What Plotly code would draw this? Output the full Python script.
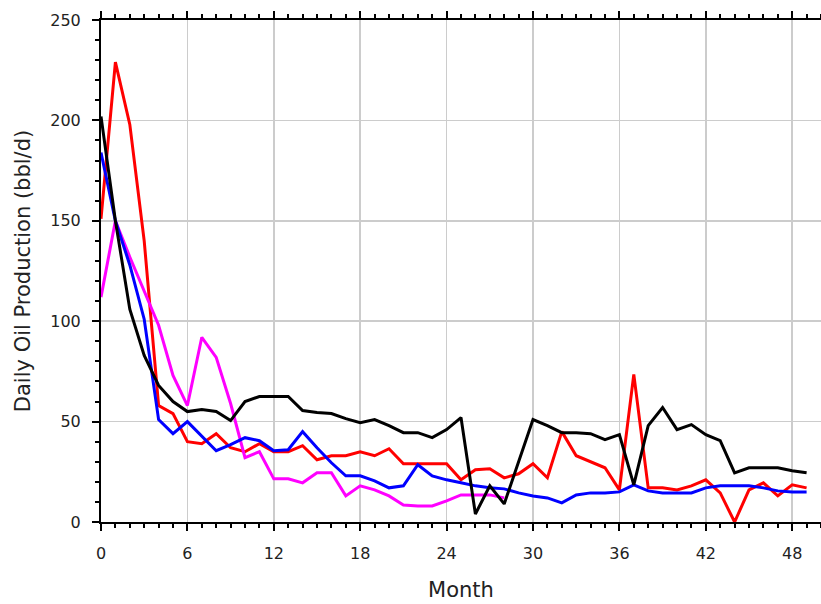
import plotly.graph_objects as go

months = list(range(50))

red = [151, 229, 198, 140, 58, 54, 40, 39, 44, 37,
       35, 39, 35, 35, 38, 31, 33, 33, 35, 33,
       36.5, 29, 29, 29, 29, 21, 26, 26.5, 22, 24,
       29, 22, 45, 33, 30, 27, 16, 73.5, 17, 17,
       16, 18, 21, 14.5, 0, 16, 19.5, 13, 18.5, 17]

blue = [184, 150, 128, 101, 51, 44, 50, 43, 35.5, 38.5,
        42, 40.5, 35.5, 36, 45, 37, 29.5, 23, 23, 20.5,
        17, 18, 28.5, 23, 21, 19.5, 18, 17, 16.5, 14.5,
        13, 12, 9.5, 13.5, 14.5, 14.5, 15, 18.5, 15.5, 14.5,
        14.5, 14.5, 17, 18, 18, 18, 17, 15.5, 15, 15]

magenta_months = list(range(29))
magenta = [112, 150, 132, 115, 98, 73, 58, 92, 82, 59,
           32, 35, 21.5, 21.5, 19.5, 24.5, 24.5, 13, 18, 16,
           13, 8.5, 8, 8, 10.5, 13.5, 13.5, 13.5, 12]

black = [202, 150, 106, 83, 68, 60, 55, 56, 55, 50.5,
         60, 62.5, 62.5, 62.5, 55.5, 54.5, 54, 51.5, 49.5, 51,
         48, 44.5, 44.5, 42, 46, 52, 4, 18, 9, 30,
         51, 48, 44.5, 44.5, 44, 41, 43.5, 18.5, 48, 57,
         46, 48.5, 43.5, 40.5, 24.5, 27, 27, 27, 25.5, 24.5]

x_ticks = [0, 6, 12, 18, 24, 30, 36, 42, 48]
y_ticks = [0, 50, 100, 150, 200, 250]

fig = go.Figure()
LW = 3
fig.add_trace(go.Scatter(x=months, y=red, mode="lines", line=dict(color="#ff0000", width=LW)))
fig.add_trace(go.Scatter(x=magenta_months, y=magenta, mode="lines", line=dict(color="#ff00ff", width=LW)))
fig.add_trace(go.Scatter(x=months, y=blue, mode="lines", line=dict(color="#0000ff", width=LW)))
fig.add_trace(go.Scatter(x=months, y=black, mode="lines", line=dict(color="#000000", width=LW)))

tickfont = dict(family="DejaVu Sans", size=16, color="#222222")
titlefont = dict(family="DejaVu Sans", size=21, color="#222222")

fig.update_layout(
    width=821, height=604,
    margin=dict(l=101, r=0, t=20, b=82),
    paper_bgcolor="white", plot_bgcolor="white",
    showlegend=False,
    hovermode=False,
    xaxis=dict(
        range=[0, 50], tickmode="array", tickvals=x_ticks,
        ticktext=[str(v) for v in x_ticks],
        showgrid=True, gridcolor="#cccccc", gridwidth=1.6,
        showline=True, linecolor="black", linewidth=2,
        ticks="outside", ticklen=7, tickwidth=2, tickcolor="black",
        mirror="ticks",
        minor=dict(dtick=1, tick0=0, ticks="outside", ticklen=4, tickwidth=2,
                   tickcolor="black", showgrid=False),
        tickfont=tickfont, ticklabelstandoff=9,
        title=dict(text="Month", font=titlefont, standoff=20),
        zeroline=False, automargin=False,
    ),
    yaxis=dict(
        range=[0, 250], tickmode="array", tickvals=y_ticks,
        ticktext=[str(v) for v in y_ticks],
        showgrid=True, gridcolor="#cccccc", gridwidth=1.6,
        showline=True, linecolor="black", linewidth=2,
        ticks="outside", ticklen=7, tickwidth=2, tickcolor="black",
        mirror="ticks",
        minor=dict(dtick=10, tick0=0, ticks="outside", ticklen=4, tickwidth=2,
                   tickcolor="black", showgrid=False),
        tickfont=tickfont, ticklabelstandoff=8,
        title=dict(text="Daily Oil Production (bbl/d)", font=titlefont, standoff=14),
        zeroline=False, automargin=False,
    ),
)

fig.write_html(
    "out.html",
    config={"displayModeBar": False, "staticPlot": True},
    post_script="document.body.style.margin='0';document.body.style.overflow='hidden';",
)
